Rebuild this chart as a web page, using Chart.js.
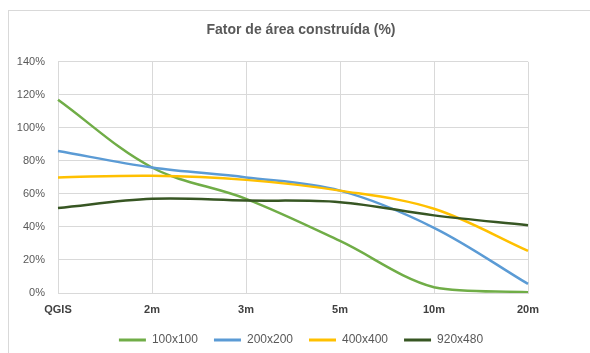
<!DOCTYPE html>
<html>
<head>
<meta charset="utf-8">
<script src="https://cdn.jsdelivr.net/npm/chart.js@4"></script>
<style>
  html, body { margin: 0; padding: 0; background: #fff; overflow: hidden; }
  #frame { position: absolute; left: 8px; top: 10px; width: 700px; height: 400px; border: 1px solid #d9d9d9; }
  #wrap { position: absolute; left: 0; top: 0; width: 602px; height: 356px; }
</style>
</head>
<body>
<div id="frame"></div>
<div id="wrap"><canvas id="chart"></canvas></div>
<script>
const categories = ["QGIS", "2m", "3m", "5m", "10m", "20m"];
const seriesNames = ["100x100", "200x200", "400x400", "920x480"];
const s100 = [117, 76, 57, 31.5, 3.5, 0.4];
const s200 = [86, 76, 70, 62, 39.5, 5.5];
const s400 = [70, 71, 68.5, 62, 51, 25.5];
const s920 = [51.5, 57, 56, 55, 47, 41];
const colors = ["#70ad47", "#5b9bd5", "#ffc000", "#375623"];

const FONT = "'Liberation Sans', Arial, sans-serif";

const makeSet = (i, data) => ({
  label: seriesNames[i],
  data: data,
  borderColor: colors[i],
  backgroundColor: colors[i],
  borderWidth: 2.5,
  pointRadius: 0,
  tension: 0.35,
  fill: false,
  order: 4 - i, // last series drawn on top, like Excel
});

new Chart(document.getElementById("chart"), {
  type: "line",
  data: {
    labels: categories,
    datasets: [
      makeSet(0, s100),
      makeSet(1, s200),
      makeSet(2, s400),
      makeSet(3, s920),
    ],
  },
  options: {
    responsive: true,
    maintainAspectRatio: false,
    animation: false,
    layout: { padding: 0 },
    plugins: {
      title: {
        display: true,
        text: "Fator de área construída (%)",
        color: "#595959",
        font: { family: FONT, size: 14, weight: "bold" },
        padding: { top: 22, bottom: 23 },
      },
      legend: {
        position: "bottom",
        labels: {
          boxWidth: 27,
          boxHeight: 3,
          padding: 16,
          color: "#595959",
          font: { family: FONT, size: 12 },
          sort: (a, b) => a.datasetIndex - b.datasetIndex,
          generateLabels: (chart) =>
            Chart.defaults.plugins.legend.labels
              .generateLabels(chart)
              .map((l) => ({ ...l, lineWidth: 0, fillStyle: l.strokeStyle })),
        },
      },
      tooltip: { enabled: false },
    },
    scales: {
      x: {
        offset: false,
        grid: { color: "#d9d9d9", lineWidth: 1, drawTicks: false },
        border: { color: "#d9d9d9" },
        ticks: {
          padding: 10,
          color: "#404040",
          font: { family: FONT, size: 11, weight: "bold" },
          maxRotation: 0,
        },
        afterFit: (scale) => { scale.height = 25; },
      },
      y: {
        min: 0,
        max: 140,
        grid: { color: "#d9d9d9", lineWidth: 1, drawTicks: false },
        border: { color: "#d9d9d9" },
        ticks: {
          stepSize: 20,
          padding: 13,
          color: "#595959",
          font: { family: FONT, size: 11 },
          callback: (v) => v + "%",
        },
        afterFit: (scale) => { scale.width = 58; },
      },
      // empty axis on the right, only to leave Excel's blank margin
      yRight: {
        position: "right",
        display: true,
        grid: { display: false },
        border: { display: false },
        ticks: { display: false },
        afterFit: (scale) => { scale.width = 74; },
      },
    },
  },
});
</script>
</body>
</html>
